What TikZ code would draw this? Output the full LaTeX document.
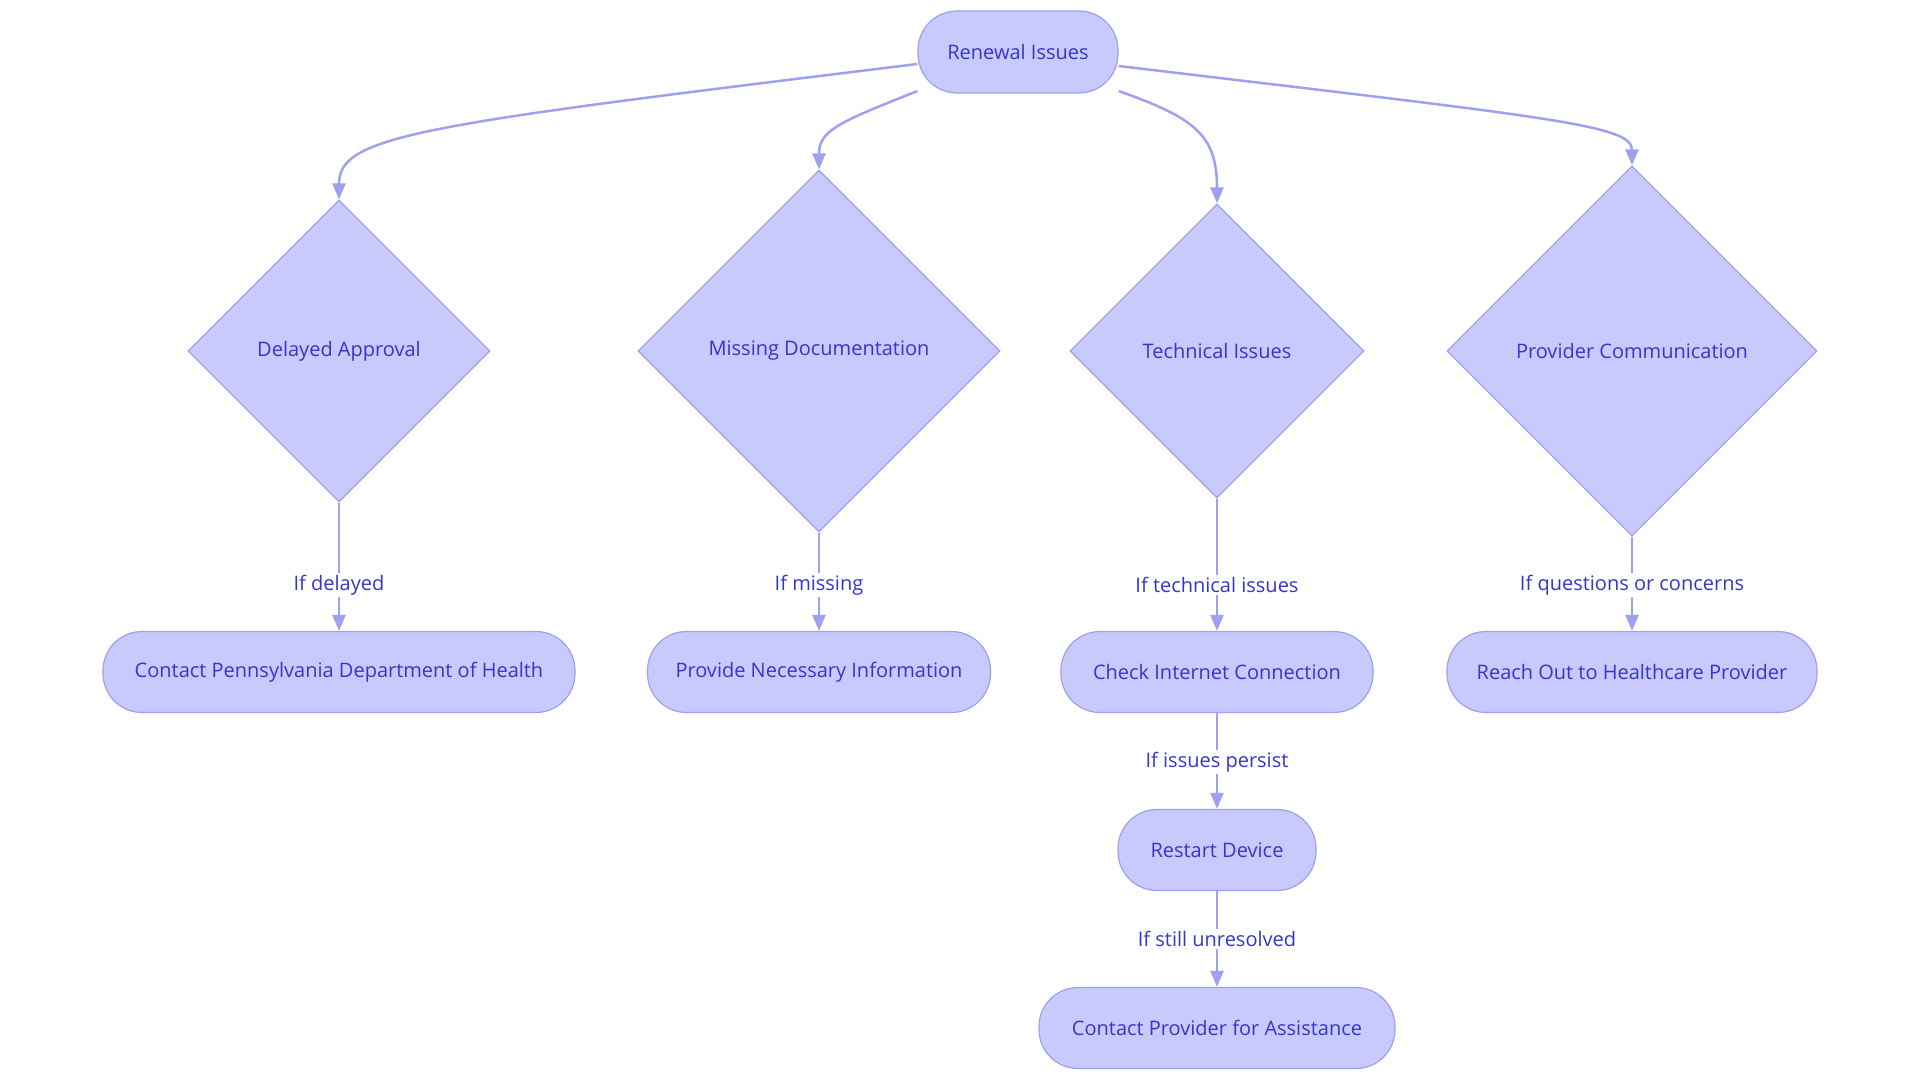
\documentclass[tikz,border=0pt]{standalone}
\usepackage{fontspec}
\setmainfont{Open Sans}
\usetikzlibrary{shapes.geometric,arrows.meta,calc}
\definecolor{nodefill}{HTML}{C8C9FC}
\definecolor{nodeline}{HTML}{9DA1F0}
\definecolor{edgeline}{HTML}{9DA1F0}
\definecolor{txt}{HTML}{3537CC}
\tikzset{
  base/.style={fill=nodefill,draw=nodeline,line width=1.2pt,text=txt,font=\fontsize{20}{24}\selectfont,inner sep=0pt},
  pill/.style={base,rectangle,rounded corners=39pt,minimum height=81pt},
  dia/.style={base,diamond,aspect=1},
  lbl/.style={fill=white,text=txt,font=\fontsize{20}{24}\selectfont,inner sep=2pt},
  conn/.style={draw=edgeline,line width=2.5pt,-{Triangle[length=16pt,width=13pt]}},
}
\begin{document}
\begin{tikzpicture}[x=1pt,y=-1pt]
\useasboundingbox (0,0) rectangle (1920,1083);
\node[pill,minimum width=200pt,minimum height=82pt] (ri) at (1018,52) {Renewal Issues};
\node[dia,minimum width=302pt,minimum height=302pt] (d1) at (339,351) {Delayed Approval};
\node[dia,minimum width=362pt,minimum height=362pt] (d2) at (819,351) {Missing Documentation};
\node[dia,minimum width=294pt,minimum height=294pt] (d3) at (1217,351) {Technical Issues};
\node[dia,minimum width=370pt,minimum height=370pt] (d4) at (1632,351) {Provider Communication};
\node[pill,minimum width=472pt] (c1) at (339,672) {Contact Pennsylvania Department of Health};
\node[pill,minimum width=343pt] (c2) at (819,672) {Provide Necessary Information};
\node[pill,minimum width=312pt] (c3) at (1217,672) {Check Internet Connection};
\node[pill,minimum width=370pt] (c4) at (1632,672) {Reach Out to Healthcare Provider};
\node[pill,minimum width=198pt] (r1) at (1217,850) {Restart Device};
\node[pill,minimum width=356pt] (r2) at (1217,1028) {Contact Provider for Assistance};

\coordinate (s1) at ([yshift=-12pt]ri.west);
\coordinate (s2) at ([yshift=-39pt]ri.west);
\coordinate (s3) at ([yshift=-39pt]ri.east);
\coordinate (s4) at ([yshift=-14pt]ri.east);
\draw[conn] (s1) .. controls (420,125) and (339,135) .. (d1.north);
\draw[conn] (s2) .. controls (840,122) and (819,130) .. (d2.north);
\draw[conn] (s3) .. controls (1195,118) and (1217,135) .. (d3.north);
\draw[conn] (s4) .. controls (1555,118) and (1632,125) .. (d4.north);

\draw[conn] (d1.south) -- (c1.north);
\draw[conn] (d2.south) -- (c2.north);
\draw[conn] (d3.south) -- (c3.north);
\draw[conn] (d4.south) -- (c4.north);
\draw[conn] (c3.south) -- (r1.north);
\draw[conn] (r1.south) -- (r2.north);

\node[lbl] (l1) at (339,585) {If delayed};
\node[lbl] (l2) at (819,585) {If missing};
\node[lbl] (l3) at (1217,585) {If technical issues};
\node[lbl] (l4) at (1632,585) {If questions or concerns};
\node[lbl] (l5) at (1217,762) {If issues persist};
\node[lbl] (l6) at (1217,939) {If still unresolved};
\end{tikzpicture}
\end{document}
